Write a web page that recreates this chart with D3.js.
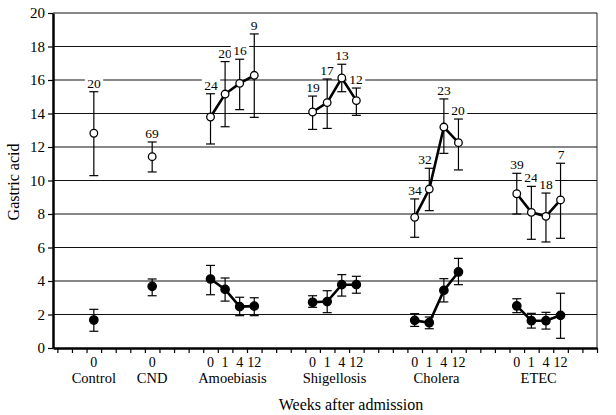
<!DOCTYPE html>
<html>
<head>
<meta charset="utf-8">
<script src="https://cdn.jsdelivr.net/npm/d3@7"></script>
<style>
  html, body { margin: 0; padding: 0; background: #fff; }
  svg { display: block; }
  svg text { font-family: "Liberation Serif", "Times New Roman", Times, "DejaVu Serif", serif; }
</style>
</head>
<body>
<svg id="chart" width="616" height="415"></svg>
<script>
// ---- data ----
const groups = ["Control", "CND", "Amoebiasis", "Shigellosis", "Cholera", "ETEC"];
const weeks = [[0], [0], [0, 1, 4, 12], [0, 1, 4, 12], [0, 1, 4, 12], [0, 1, 4, 12]];
const openMean = [[12.82], [11.42], [13.79, 15.16, 15.8, 16.28], [14.09, 14.65, 16.12, 14.77], [7.8, 9.49, 13.19, 12.26], [9.21, 8.1, 7.86, 8.84]];
const openHi = [[15.3], [12.3], [15.18, 17.1, 17.24, 18.75], [15.04, 16.06, 16.94, 15.52], [8.9, 10.73, 14.87, 13.67], [10.43, 9.65, 9.25, 11.03]];
const openLo = [[10.29], [10.51], [12.18, 13.21, 14.23, 13.77], [13.05, 13.11, 15.3, 13.89], [6.61, 8.2, 11.62, 10.63], [8.0, 6.49, 6.33, 6.55]];
const nLabels = [["20"], ["69"], ["24", "20", "16", "9"], ["19", "17", "13", "12"], ["34", "32", "23", "20"], ["39", "24", "18", "7"]];
const filledMean = [[1.67], [3.68], [4.12, 3.5, 2.47, 2.5], [2.73, 2.77, 3.78, 3.78], [1.65, 1.51, 3.44, 4.54], [2.51, 1.63, 1.63, 1.95]];
const filledHi = [[2.31], [4.12], [4.93, 4.18, 3.03, 3.0], [3.12, 3.42, 4.38, 4.28], [2.05, 1.85, 4.14, 5.35], [2.94, 2.07, 2.13, 3.27]];
const filledLo = [[1.0], [3.12], [3.18, 2.8, 1.93, 1.93], [2.43, 2.11, 3.1, 3.27], [1.29, 1.15, 2.75, 3.78], [2.11, 1.19, 1.13, 0.58]];
const yTicks = [0, 2, 4, 6, 8, 10, 12, 14, 16, 18, 20];
const yLabel = "Gastric acid";
const xLabel = "Weeks after admission";

// ---- layout ----
const FONT = '"Liberation Serif", "Times New Roman", Times, "DejaVu Serif", serif';
const groupSlot = [2.5, 6.5, 10.5, 17.5, 24.5, 31.5];
const labelShift = { "4-1": -4 };   // nudge a count label off the line (layout only)
const nSlots = 37;
const svg = d3.select("#chart");
const x = d3.scaleLinear().domain([-0.3, nSlots]).range([53, 597]);
const y = d3.scaleLinear().domain([0, 20]).range([348, 13]);

function build(mean, hi, lo, withLabels) {
  return groups.map((g, gi) => weeks[gi].map((w, wi) => ({
    g: gi, wi: wi, week: w, slot: groupSlot[gi] + wi,
    v: mean[gi][wi], hi: hi[gi][wi], lo: lo[gi][wi],
    label: withLabels ? nLabels[gi][wi] : null
  })));
}
const openSeries = build(openMean, openHi, openLo, true);
const filledSeries = build(filledMean, filledHi, filledLo, false);
const allPts = openSeries.flat();

// gridlines
svg.append("g").selectAll("line").data(yTicks.filter(t => t > 0)).join("line")
  .attr("x1", x.range()[0]).attr("x2", x.range()[1])
  .attr("y1", d => y(d)).attr("y2", d => y(d))
  .attr("stroke", "#111").attr("stroke-width", 1.2);

// right border
svg.append("line").attr("x1", x.range()[1]).attr("x2", x.range()[1])
  .attr("y1", y(20)).attr("y2", y(0)).attr("stroke", "#222").attr("stroke-width", 1);

// n labels with white background boxes (below the marks)
const lg = svg.append("g").attr("font-family", FONT);
const lbl = lg.selectAll("g").data(allPts).join("g")
  .attr("transform", d => `translate(${Math.round(x(d.slot) + (labelShift[d.g + "-" + d.wi] || 0))},${Math.round(y(d.hi) - 4)})`);
lbl.append("rect")
  .attr("x", d => -d.label.length * 3.6 - 2).attr("y", -11)
  .attr("width", d => d.label.length * 7.2 + 4).attr("height", 12)
  .attr("fill", "#fff");
lbl.append("text").attr("text-anchor", "middle").attr("font-size", 13.5).attr("fill", "#000")
  .text(d => d.label);

// y axis
const yAxis = svg.append("g").attr("transform", `translate(${x.range()[0]},0)`)
  .call(d3.axisLeft(y).tickValues(yTicks).tickSize(5).tickSizeOuter(0).tickPadding(3));
yAxis.attr("font-family", FONT);
yAxis.select(".domain").attr("stroke", "#000").attr("stroke-width", 2.5);
yAxis.selectAll(".tick line").attr("stroke", "#000").attr("stroke-width", 1.2);
yAxis.selectAll(".tick text").attr("font-size", 15).attr("fill", "#000");

// x axis
const xAxis = svg.append("g").attr("transform", `translate(0,${y(0)})`)
  .call(d3.axisBottom(x).tickValues(d3.range(0, nSlots + 1)).tickSize(5).tickSizeOuter(0).tickFormat(""));
xAxis.select(".domain").attr("stroke", "#000").attr("stroke-width", 2.5);
xAxis.selectAll(".tick line").attr("stroke", "#000").attr("stroke-width", 1.2);

// week labels
svg.append("g").attr("font-family", FONT).selectAll("text").data(allPts).join("text")
  .attr("x", d => x(d.slot)).attr("y", 367)
  .attr("text-anchor", "middle").attr("font-size", 14).attr("fill", "#000")
  .text(d => d.week);

// group labels
svg.append("g").attr("font-family", FONT).selectAll("text").data(groups).join("text")
  .attr("x", (d, i) => x(groupSlot[i] + (weeks[i].length - 1) / 2)).attr("y", 383)
  .attr("text-anchor", "middle").attr("font-size", 14.5).attr("fill", "#000")
  .text(d => d);

// axis titles
svg.append("text").attr("font-family", FONT).attr("x", 351).attr("y", 410).attr("text-anchor", "middle")
  .attr("font-size", 16).attr("fill", "#000").text(xLabel);
svg.append("text").attr("font-family", FONT).attr("transform", `translate(19,182) rotate(-90)`).attr("text-anchor", "middle")
  .attr("font-size", 16).attr("fill", "#000").text(yLabel);

// series drawing
function drawSeries(series, filled) {
  const g = svg.append("g");
  const pts = series.flat();
  const cap = 4.5;
  const eb = g.append("g").attr("stroke", "#000").attr("stroke-width", 1.2);
  eb.selectAll(".v").data(pts).join("line").attr("class", "v")
    .attr("x1", d => x(d.slot)).attr("x2", d => x(d.slot))
    .attr("y1", d => y(d.hi)).attr("y2", d => y(d.lo));
  eb.selectAll(".t").data(pts).join("line").attr("class", "t")
    .attr("x1", d => x(d.slot) - cap).attr("x2", d => x(d.slot) + cap)
    .attr("y1", d => y(d.hi)).attr("y2", d => y(d.hi));
  eb.selectAll(".b").data(pts).join("line").attr("class", "b")
    .attr("x1", d => x(d.slot) - cap).attr("x2", d => x(d.slot) + cap)
    .attr("y1", d => y(d.lo)).attr("y2", d => y(d.lo));
  const line = d3.line().x(d => x(d.slot)).y(d => y(d.v));
  g.selectAll("path.ln").data(series.filter(s => s.length > 1)).join("path").attr("class", "ln")
    .attr("d", line).attr("fill", "none").attr("stroke", "#000").attr("stroke-width", 2.6);
  g.selectAll("circle").data(pts).join("circle")
    .attr("cx", d => x(d.slot)).attr("cy", d => y(d.v)).attr("r", filled ? 4.2 : 3.8)
    .attr("fill", filled ? "#000" : "#fff").attr("stroke", "#000").attr("stroke-width", 1.3);
}
drawSeries(openSeries, false);
drawSeries(filledSeries, true);
</script>
</body>
</html>
